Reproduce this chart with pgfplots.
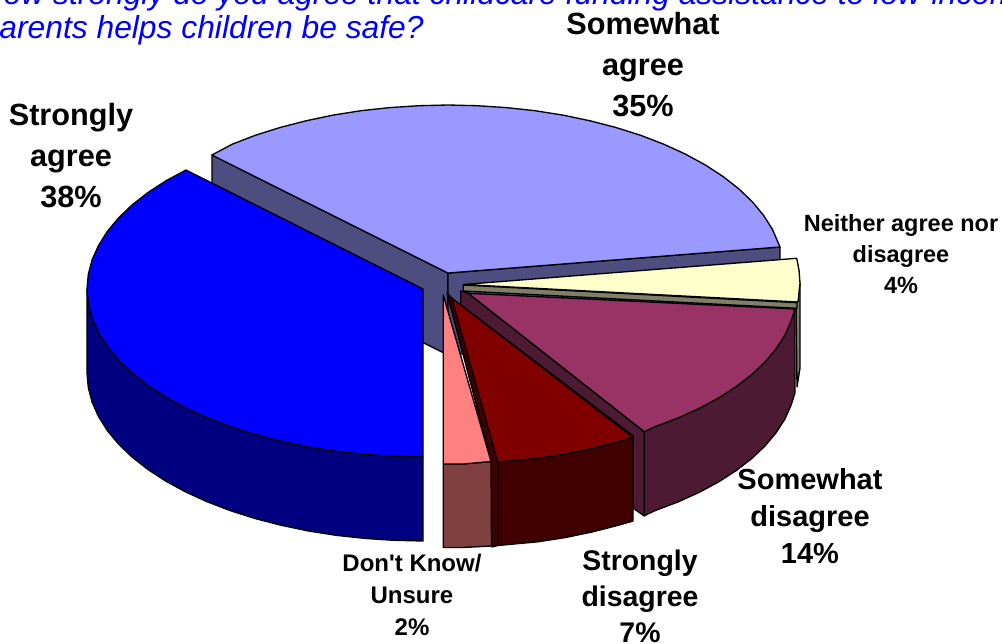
\documentclass[border=0pt]{standalone}
\usepackage{fontspec}
\setmainfont[Ligatures=TeXOff]{Liberation Sans}
\usepackage{pgfplots}
\pgfplotsset{compat=1.18}

\definecolor{sliceA}{HTML}{0000FF}
\definecolor{wallA}{HTML}{000080}
\definecolor{sliceB}{HTML}{9999FF}
\definecolor{wallB}{HTML}{4D4D80}
\definecolor{sliceC}{HTML}{FFFFCC}
\definecolor{wallC}{HTML}{808066}
\definecolor{sliceD}{HTML}{993366}
\definecolor{wallD}{HTML}{4D1A33}
\definecolor{sliceE}{HTML}{800000}
\definecolor{wallE}{HTML}{400000}
\definecolor{sliceF}{HTML}{FF8080}
\definecolor{wallF}{HTML}{804040}

\begin{document}
\begin{tikzpicture}
\clip (0,0) rectangle (751.5pt,482.25pt);
\begin{axis}[
  at={(0,0)}, anchor=south west,
  scale only axis,
  width=751.5pt, height=482.25pt,
  xmin=0, xmax=1002,
  ymin=0, ymax=643,
  y dir=reverse,
  hide axis,
  clip=false,
  no markers,
  every axis plot/.append style={draw=black, line width=1pt, line join=round, solid}
  ]

  % somewhat agree, walls then top
  \addplot[fill=wallB] coordinates {(212,155) (448,273) (448,355) (212,237)} -- cycle;
  \addplot[fill=wallB] coordinates {(448,273) (780,247) (780,330) (448,355)} -- cycle;
  \addplot[fill=sliceB] coordinates {
    (448,273) (780,247) (772.5,229.5) (763.7,215.5) (752.5,202) (739,189) (723.2,176.6)
    (705.4,165) (685.6,154.2) (664,144.3) (640.9,135.4) (616,127.5) (590.1,120.8)
    (563,115.1) (535,110.7) (506.3,107.6) (477.2,105.7) (448,105) (418.8,105.7)
    (389.7,107.6) (361,110.7) (333,115.1) (306,120.8) (280,127.5) (255,135.4)
    (232,144.3) (212,155)} -- cycle;

  % neither agree nor disagree
  \addplot[fill=wallC] coordinates {(796,300) (800,283) (800,368) (797,387)} -- cycle;
  \addplot[fill=wallC] coordinates {(463.3,285) (797,302.7) (797,308.3) (463.3,291)} -- cycle;
  \addplot[fill=sliceC] coordinates {
    (463.3,284.5) (796.7,258.3) (799,270) (800,283) (798,302)} -- cycle;

  % somewhat disagree
  \addplot[fill=wallD] coordinates {
    (644.3,431.7) (655.3,426.5) (678.1,417.9) (699.3,408.3) (718.8,397.8) (736.3,386.5)
    (751.8,374.5) (765.1,361.9) (776.1,348.7) (784.8,335.2) (791,321.3) (795,309)
    (795,393) (791,405.3) (784.8,419.2) (776.1,432.7) (765.1,445.9) (751.8,458.5)
    (736.3,470.5) (718.8,481.8) (699.3,492.3) (678.1,501.9) (655.3,510.5) (644.3,515.7)} -- cycle;
  \addplot[fill=wallD] coordinates {
    (460.7,291) (468.3,293.3) (644.3,431.7) (644.3,516) (633.3,508.3) (633.3,436) (460.7,305)} -- cycle;
  \addplot[fill=sliceD] coordinates {
    (468.3,293.3) (795,309) (791,321.3) (784.8,335.2) (776.1,348.7) (765.1,361.9)
    (751.8,374.5) (736.3,386.5) (718.8,397.8) (699.3,408.3) (678.1,417.9)
    (655.3,426.5) (644.3,431.7)} -- cycle;

  % strongly disagree
  \addplot[fill=wallE] coordinates {
    (497.7,462) (537.9,458.3) (565.6,454) (592.4,448.4) (618.2,441.8) (633,437.3)
    (633,521) (618.2,525.3) (592.4,531.9) (565.6,537.5) (537.9,541.8) (497.7,545.5)} -- cycle;
  \addplot[fill=wallE] coordinates {
    (447,293) (451.7,298) (497.7,462) (497.7,545.5) (492,547) (491,461)} -- cycle;
  \addplot[fill=sliceE] coordinates {
    (451.7,298) (633,437.3) (618.2,441.8) (592.4,448.4) (565.6,454) (537.9,458.3) (497.7,462)} -- cycle;

  % don't know
  \addplot[fill=wallF] coordinates {
    (443.3,464) (463,464) (491,461.5) (491.5,546) (463,547.5) (443.3,547.5)} -- cycle;
  \addplot[fill=sliceF] coordinates {
    (443.3,295) (491,461.5) (463,464) (443.3,464)} -- cycle;

  % strongly agree
  \addplot[fill=wallA] coordinates {
    (87,289) (88.3,303.6) (92.1,318.2) (98.5,332.5) (107.3,346.5) (118.5,360) (132,373)
    (147.8,385.4) (165.6,397) (185.4,407.8) (207,417.7) (230.2,426.6) (255,434.5)
    (280.9,441.2) (308,446.9) (336,451.3) (364.7,454.4) (393.7,456.3) (423,457)
    (423,541) (393.7,540.3) (364.7,538.4) (336,535.3) (308,530.9) (280.9,525.2)
    (255,518.5) (230.2,510.6) (207,501.7) (185.4,491.8) (165.6,481) (147.8,469.4)
    (132,457) (118.5,444) (107.3,430.5) (98.5,416.5) (92.1,402.2) (88.3,387.6) (87,373)} -- cycle;
  \addplot[fill=sliceA] coordinates {
    (423,289) (186,170) (165.6,181) (147.8,192.6) (132,205) (118.5,218) (107.3,231.5)
    (98.5,245.5) (92.1,259.8) (88.3,274.4) (87,289) (88.3,303.6) (92.1,318.2)
    (98.5,332.5) (107.3,346.5) (118.5,360) (132,373) (147.8,385.4) (165.6,397)
    (185.4,407.8) (207,417.7) (230.2,426.6) (255,434.5) (280.9,441.2) (308,446.9)
    (336,451.3) (364.7,454.4) (393.7,456.3) (423,457)} -- cycle;

  % question, cut by the page edge as in the original
  \node[anchor=base west, text=sliceA, font=\fontsize{23.85}{24}\selectfont\itshape]
    at (axis cs:-24,4) {How strongly do you agree that childcare funding assistance to low-income};
  \node[anchor=base west, text=sliceA, font=\fontsize{23.85}{24}\selectfont\itshape]
    at (axis cs:-23,38) {parents helps children be safe?};

  \node[align=center, font=\fontsize{23}{30.75}\selectfont\bfseries] at (axis cs:71,156) {Strongly\\agree\\38\%};
  \node[align=center, font=\fontsize{23}{30.75}\selectfont\bfseries] at (axis cs:643,65) {Somewhat\\agree\\35\%};
  \node[align=center, font=\fontsize{17.6}{23.25}\selectfont\bfseries] at (axis cs:901,254) {Neither agree nor\\disagree\\4\%};
  \node[align=center, font=\fontsize{21.75}{27.75}\selectfont\bfseries] at (axis cs:810,516) {Somewhat\\disagree\\14\%};
  \node[align=center, font=\fontsize{21.3}{27}\selectfont\bfseries] at (axis cs:640,596) {Strongly\\disagree\\7\%};
  \node[align=center, font=\fontsize{18}{24}\selectfont\bfseries] at (axis cs:412,595) {Don't Know/\\Unsure\\2\%};

\end{axis}
\end{tikzpicture}
\end{document}
